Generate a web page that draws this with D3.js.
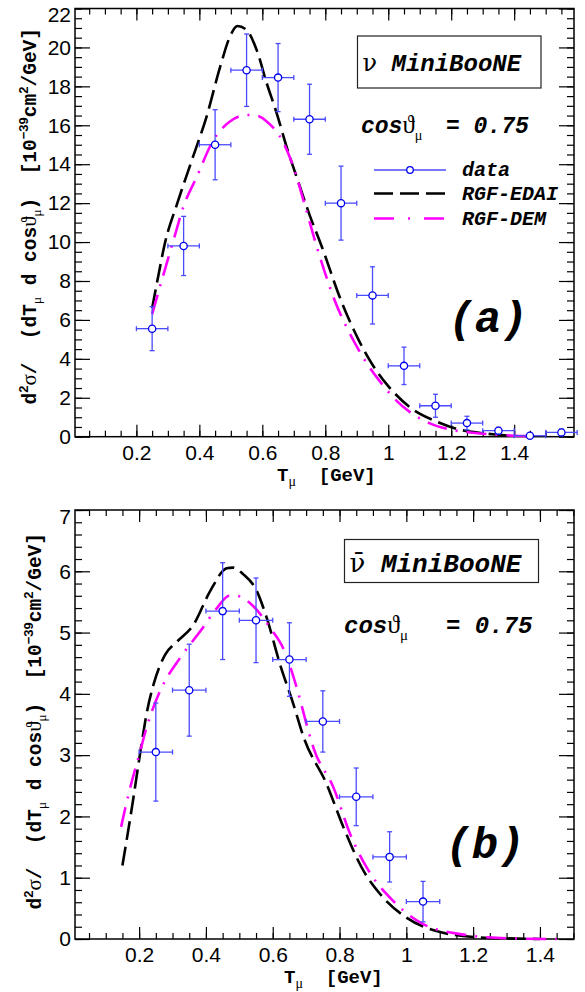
<!DOCTYPE html>
<html><head><meta charset="utf-8">
<script src="https://cdn.jsdelivr.net/npm/d3@7"></script>
<style>
html,body{margin:0;padding:0;background:#fff;}
svg{display:block;}
text{white-space:pre;}
</style></head>
<body>
<svg id="chart" width="585" height="992"></svg>
<script>
// ---------------- DATA ----------------
// Panel (a): nu MiniBooNE
const aDataT   = [0.25,0.35,0.45,0.55,0.65,0.75,0.85,0.95,1.05,1.15,1.25,1.35,1.45,1.55];
const aDataY   = [5.55,9.8,15.0,18.83,18.45,16.31,12.0,7.26,3.64,1.59,0.70,0.31,0.05,0.22];
const aDataErr = [1.13,1.52,1.8,1.86,1.75,1.8,1.9,1.47,0.96,0.59,0.35,0.17,0.05,0.17];
const aEdaiT = [0.25,0.27,0.29,0.33,0.376,0.423,0.466,0.497,0.521,0.55,0.582,0.614,0.646,0.677,0.714,0.75,0.789,0.85,0.905,0.95,1.0,1.07,1.15,1.22,1.3,1.35,1.4];
const aEdaiY = [6.6,8.3,9.9,12.0,14.2,16.45,19.0,20.55,21.1,20.9,19.87,18.16,16.6,14.9,13.1,11.4,9.76,7.0,5.0,3.7,2.6,1.5,0.8,0.39,0.18,0.1,0.03];
const aDemT = [0.25,0.28,0.318,0.349,0.392,0.445,0.497,0.55,0.58,0.614,0.667,0.698,0.735,0.773,0.83,0.893,0.935,0.976,1.02,1.07,1.13,1.19,1.26,1.33,1.4,1.46];
const aDemY = [6.3,8.0,10.1,11.8,13.36,15.25,16.19,16.53,16.5,16.2,15.1,13.9,11.9,9.76,7.0,4.84,3.7,2.79,1.95,1.25,0.7,0.39,0.22,0.12,0.05,0.02];

// Panel (b): anti-nu MiniBooNE
const bDataT   = [0.25,0.35,0.45,0.55,0.65,0.75,0.85,0.95,1.05];
const bDataY   = [3.05,4.06,5.35,5.20,4.56,3.55,2.32,1.34,0.61];
const bDataErr = [0.8,0.75,0.79,0.69,0.6,0.5,0.47,0.41,0.33];
const bEdaiT = [0.15,0.18,0.205,0.225,0.243,0.278,0.313,0.363,0.413,0.4626,0.48,0.512,0.552,0.582,0.622,0.662,0.692,0.762,0.812,0.872,0.922,1.0,1.09,1.21,1.3,1.4];
const bEdaiY = [1.2,2.2,3.1,3.75,4.15,4.64,4.85,5.13,5.68,6.05,6.06,5.95,5.68,5.24,4.48,3.83,3.3,2.52,1.82,1.11,0.73,0.35,0.13,0.03,0.01,0.0];
const bDemT = [0.146,0.17,0.2,0.225,0.263,0.323,0.383,0.433,0.47,0.49,0.542,0.592,0.635,0.672,0.707,0.722,0.782,0.832,0.882,0.961,1.041,1.161,1.31,1.45];
const bDemY = [1.83,2.4,3.0,3.5,4.05,4.59,5.02,5.40,5.6,5.6,5.43,5.08,4.7,4.10,3.39,3.12,2.47,1.71,1.16,0.62,0.27,0.08,0.01,0.0];

const binHalfWidth = 0.05;
const aXTickLabels = [0.2,0.4,0.6,0.8,1,1.2,1.4];
const aYTickLabels = [0,2,4,6,8,10,12,14,16,18,20,22];
const bXTickLabels = [0.2,0.4,0.6,0.8,1,1.2,1.4];
const bYTickLabels = [0,1,2,3,4,5,6,7];
const legendLabels = ["data","RGF-EDAI","RGF-DEM"];

// ---------------- STYLE ----------------
const MONO = "'Liberation Mono','DejaVu Sans Mono',monospace";
const SANS = "'Liberation Sans',Arial,sans-serif";
const SERIF = "'Liberation Serif','DejaVu Serif',serif";
const SERIF2 = "'DejaVu Serif','Liberation Serif',serif";
const C_DATA = "#0000ee", C_BAR = "#4a4aff", C_EDAI = "#000000", C_DEM = "#ff00ff";
const DASH_EDAI = "19,7", DASH_DEM = "20,9,2,9";

const svg = d3.select("#chart");

function panel(cfg){
  const x = d3.scaleLinear().domain(cfg.xDomain).range([75,574]);
  const y = d3.scaleLinear().domain(cfg.yDomain).range(cfg.yRange);
  const g = svg.append("g");
  const [y0,y1] = cfg.yRange;

  const xMinor = d3.range(0.05, cfg.xDomain[1], 0.05).filter(v=>v>cfg.xDomain[0]);
  const yMinor = d3.range(0, cfg.yDomain[1]+1e-9, cfg.yMinorStep);

  function ticks(axisFn, scale, vals, size, translate, labels){
    const a = axisFn(scale).tickValues(vals).tickSizeInner(-size).tickSizeOuter(0);
    if(labels){ a.tickFormat(d3.format("~g")).tickPadding(labels); } else { a.tickFormat(""); }
    const ag = g.append("g").attr("transform",translate).call(a);
    ag.select(".domain").remove();
    ag.selectAll("line").attr("stroke","#000").attr("stroke-width",1.2);
    ag.selectAll("text").attr("font-family",SANS).attr("font-size",21).attr("fill","#000");
    return ag;
  }
  ticks(d3.axisLeft, y, yMinor, 7, "translate(75,0)");
  const ly = ticks(d3.axisLeft, y, cfg.yLabels, 15, "translate(75,0)", 4);
  // keep the topmost label inside the picture (as in the reference)
  ly.selectAll("text").filter(d=>d===cfg.yDomain[1]).attr("dy","0.62em");
  ticks(d3.axisRight, y, yMinor, 7, "translate(574,0)");
  ticks(d3.axisRight, y, cfg.yLabels, 15, "translate(574,0)");
  ticks(d3.axisBottom, x, xMinor, 6, `translate(0,${y0})`);
  ticks(d3.axisBottom, x, cfg.xLabels, 12, `translate(0,${y0})`, 8);
  ticks(d3.axisTop, x, xMinor, 6, `translate(0,${y1})`);
  ticks(d3.axisTop, x, cfg.xLabels, 12, `translate(0,${y1})`);

  g.append("rect").attr("x",75).attr("y",y1).attr("width",574-75).attr("height",y0-y1)
    .attr("fill","none").attr("stroke","#000").attr("stroke-width",1.5);

  const line = d3.line().x(d=>x(d[0])).y(d=>y(d[1])).curve(d3.curveMonotoneX);
  g.append("path").datum(d3.zip(cfg.edaiT,cfg.edaiY)).attr("d",line)
    .attr("fill","none").attr("stroke",C_EDAI).attr("stroke-width",2.6).attr("stroke-dasharray",DASH_EDAI);
  g.append("path").datum(d3.zip(cfg.demT,cfg.demY)).attr("d",line)
    .attr("fill","none").attr("stroke",C_DEM).attr("stroke-width",2.6).attr("stroke-dasharray",DASH_DEM);

  const pts = cfg.dataT.map((t,i)=>({t, v:cfg.dataY[i], e:cfg.dataErr[i]}));
  const pg = g.append("g");
  pts.forEach(p=>{
    const cx = x(p.t), cy = y(p.v);
    const xl = x(p.t-binHalfWidth), xr = x(p.t+binHalfWidth);
    const yt = y(p.v+p.e), yb = y(Math.max(0,p.v-p.e));
    pg.append("line").attr("x1",xl).attr("x2",xr).attr("y1",cy).attr("y2",cy);
    pg.append("line").attr("x1",cx).attr("x2",cx).attr("y1",yt).attr("y2",yb);
    pg.append("line").attr("x1",xl).attr("x2",xl).attr("y1",cy-2.5).attr("y2",cy+2.5);
    pg.append("line").attr("x1",xr).attr("x2",xr).attr("y1",cy-2.5).attr("y2",cy+2.5);
    pg.append("line").attr("x1",cx-2.5).attr("x2",cx+2.5).attr("y1",yt).attr("y2",yt);
    pg.append("line").attr("x1",cx-2.5).attr("x2",cx+2.5).attr("y1",yb).attr("y2",yb);
    pg.append("circle").attr("cx",cx).attr("cy",cy).attr("r",3.6)
      .attr("fill","#fff").attr("stroke",C_DATA).attr("stroke-width",1.3);
  });
  pg.selectAll("line").attr("stroke",C_BAR).attr("stroke-width",1.3);

  // x title
  const xt = g.append("text").attr("x",cfg.xTitle[0]).attr("y",cfg.xTitle[1])
    .attr("font-family",MONO).attr("font-weight","bold").attr("font-size",19);
  xt.append("tspan").text("T");
  xt.append("tspan").attr("font-family",SERIF).attr("font-weight","normal").attr("font-size",14).attr("dy",5).text("μ");
  xt.append("tspan").attr("dy",-5).text("  [GeV]");

  // y title
  const yt = g.append("text").attr("transform",`translate(${cfg.yTitle[0]},${cfg.yTitle[1]}) rotate(-90)`)
    .attr("text-anchor","end").attr("font-family",MONO).attr("font-weight","bold").attr("font-size",19.5);
  yt.append("tspan").text("d");
  yt.append("tspan").attr("font-size",13).attr("dy",-8).attr("font-family",SANS).text("2");
  yt.append("tspan").attr("dy",8).attr("font-family",SERIF).attr("font-weight","normal").attr("font-size",21).text("σ");
  yt.append("tspan").text("/  (dT");
  yt.append("tspan").attr("font-family",SERIF).attr("font-weight","normal").attr("font-size",13).attr("dy",5).text("μ");
  yt.append("tspan").attr("dy",-5).text(" d cos");
  yt.append("tspan").attr("font-family",SERIF).attr("font-weight","normal").attr("font-size",21).text("ϑ");
  yt.append("tspan").attr("font-family",SERIF).attr("font-weight","normal").attr("font-size",13).attr("dy",5).text("μ");
  yt.append("tspan").attr("dy",-5).text(")  [10");
  yt.append("tspan").attr("font-size",13).attr("dy",-8).attr("font-family",SANS).text("−39");
  yt.append("tspan").attr("dy",8).text("cm");
  yt.append("tspan").attr("font-size",13).attr("dy",-8).attr("font-family",SANS).text("2");
  yt.append("tspan").attr("dy",8).text("/GeV]");

  // title box
  const b = cfg.box;
  g.append("rect").attr("x",b[0]).attr("y",b[1]).attr("width",b[2]).attr("height",b[3])
    .attr("fill","#fff").attr("stroke","#222").attr("stroke-width",1.2);
  const bt = g.append("text").attr("x",b[0]+5).attr("y",b[4]).attr("font-size",cfg.boxFont);
  bt.append("tspan").attr("font-family",SERIF2).text(cfg.nu);
  bt.append("tspan").attr("font-family",MONO).attr("font-weight","bold").attr("font-style","italic").text(" MiniBooNE");

  // cos theta label
  const c = cfg.cosPos;
  const ct = g.append("text").attr("x",c[0]).attr("y",c[1]).attr("font-size",cfg.cosFont)
    .attr("font-family",MONO).attr("font-weight","bold").attr("font-style","italic");
  ct.append("tspan").text("cos");
  ct.append("tspan").attr("font-family",SERIF).attr("font-weight","normal").attr("font-style","normal").attr("font-size",cfg.cosFont+2).text("ϑ");
  ct.append("tspan").attr("font-family",SERIF).attr("font-weight","normal").attr("font-style","normal")
    .attr("font-size",cfg.cosFont*0.62).attr("dy",7).text("μ");
  g.append("text").attr("x",c[2]).attr("y",c[1]).attr("font-size",cfg.cosFont)
    .attr("font-family",MONO).attr("font-weight","bold").attr("font-style","italic").text("= 0.75");

  // panel label
  g.append("text").attr("x",cfg.tag[0]).attr("y",cfg.tag[1]).attr("text-anchor","middle")
    .attr("font-family",MONO).attr("font-weight","bold").attr("font-style","italic").attr("font-size",44)
    .text(cfg.tagText);

  return {x,y,g};
}

panel({
  xDomain:[0.005,1.59], yDomain:[0,22], yRange:[436.7,8.5], yMinorStep:0.5,
  xLabels:aXTickLabels, yLabels:aYTickLabels,
  dataT:aDataT, dataY:aDataY, dataErr:aDataErr,
  edaiT:aEdaiT, edaiY:aEdaiY, demT:aDemT, demY:aDemY,
  xTitle:[277,481], yTitle:[36,28],
  box:[357.5,36,183.5,52,71], boxFont:24, nu:"ν",
  cosPos:[361,133,446], cosFont:23,
  tag:[488,332], tagText:"(a)"
});

panel({
  xDomain:[0.008,1.502], yDomain:[0,7], yRange:[939,510], yMinorStep:0.2,
  xLabels:bXTickLabels, yLabels:bYTickLabels,
  dataT:bDataT, dataY:bDataY, dataErr:bDataErr,
  edaiT:bEdaiT, edaiY:bEdaiY, demT:bDemT, demY:bDemY,
  xTitle:[284,983], yTitle:[41,533],
  box:[344.5,539.5,194,43,571.5], boxFont:26, nu:"ν\u0304",
  cosPos:[344,633,446], cosFont:24,
  tag:[485,858], tagText:"(b)"
});

// legend (panel a)
const legY = [170,193.5,218.5];
const lg = svg.append("g");
lg.append("line").attr("x1",374).attr("x2",446).attr("y1",legY[0]).attr("y2",legY[0])
  .attr("stroke",C_BAR).attr("stroke-width",1.3);
lg.append("circle").attr("cx",410).attr("cy",legY[0]).attr("r",3.3).attr("fill","#fff").attr("stroke",C_DATA).attr("stroke-width",1.3);
lg.append("line").attr("x1",374).attr("x2",446).attr("y1",legY[1]).attr("y2",legY[1])
  .attr("stroke",C_EDAI).attr("stroke-width",2.6).attr("stroke-dasharray",DASH_EDAI);
lg.append("line").attr("x1",374).attr("x2",446).attr("y1",legY[2]).attr("y2",legY[2])
  .attr("stroke",C_DEM).attr("stroke-width",2.6).attr("stroke-dasharray","20,14,2,14");
lg.selectAll("text.leg").data(legendLabels).enter().append("text")
  .attr("x",462).attr("y",(d,i)=>legY[i]+6)
  .attr("font-family",MONO).attr("font-weight","bold").attr("font-style","italic").attr("font-size",20)
  .text(d=>d);
</script>
</body></html>
